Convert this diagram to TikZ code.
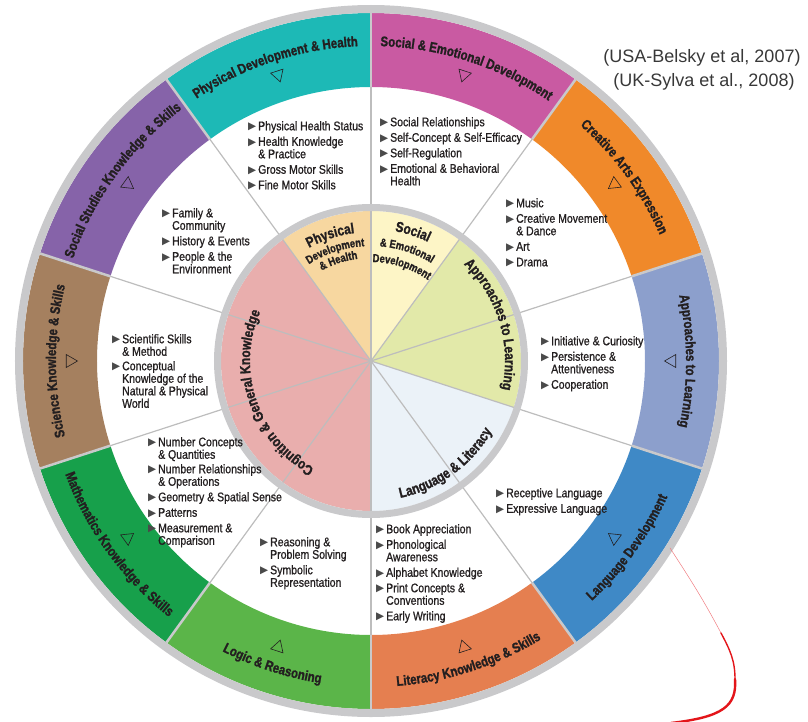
\documentclass[tikz,border=0pt]{standalone}
\usepackage{fontspec}
\setmainfont{Liberation Sans}
\newfontfamily\condfont[FakeStretch=0.84,FakeBold=0.9]{Liberation Sans}
\newfontfamily\heavyfont[FakeStretch=0.82,BoldFeatures={FakeBold=1.4}]{Liberation Sans}
\newfontfamily\bulfont{DejaVu Sans}
\usetikzlibrary{decorations.text,shapes.geometric}

\definecolor{ink}{HTML}{231F20}
\definecolor{bulgrey}{HTML}{4A4A4A}
\definecolor{rimgrey}{HTML}{C9C9CB}
\definecolor{spokegrey}{HTML}{BDBDBD}
\definecolor{physband}{RGB}{29,185,182}
\definecolor{socband}{RGB}{201,90,162}
\definecolor{artband}{RGB}{240,137,42}
\definecolor{apprband}{RGB}{140,159,204}
\definecolor{langband}{RGB}{63,137,198}
\definecolor{litband}{RGB}{229,127,80}
\definecolor{logicband}{RGB}{91,181,73}
\definecolor{mathband}{RGB}{23,160,75}
\definecolor{sciband}{RGB}{165,128,95}
\definecolor{sstudband}{RGB}{134,99,169}
\definecolor{physpie}{RGB}{247,215,160}
\definecolor{socpie}{RGB}{253,245,198}
\definecolor{apprpie}{RGB}{226,233,169}
\definecolor{langpie}{RGB}{235,242,248}
\definecolor{cogpie}{RGB}{233,174,173}
\definecolor{pen}{RGB}{227,21,26}

% bullets and fonts
\newcommand{\itm}{\makebox[10pt][l]{\raisebox{0.3pt}{\bulfont\fontsize{10.5}{10.5}\selectfont\color{bulgrey}▶}}}
\newcommand{\ind}{\hspace*{10pt}}
\newcommand{\bandfont}{\heavyfont\bfseries\fontsize{14}{14}\selectfont\color{ink}}
\newcommand{\piebig}{\heavyfont\bfseries\fontsize{14.5}{14.5}\selectfont\color{ink}}
\newcommand{\piesmall}{\heavyfont\bfseries\fontsize{11.5}{11.5}\selectfont\color{ink}}

% curved labels: #1 mid angle, #2 baseline radius, #3 font, #4 text
\newcommand{\cwlabel}[4]{\path[decorate,decoration={text along path,text align=center,text={|#3|#4}}]
  (#1+60:#2) arc[start angle=#1+60,end angle=#1-60,radius=#2];}
\newcommand{\ccwlabel}[4]{\path[decorate,decoration={text along path,text align=center,text={|#3|#4}}]
  (#1-60:#2) arc[start angle=#1-60,end angle=#1+60,radius=#2];}

\begin{document}
\begin{tikzpicture}[x=1pt,y=1pt,
   spoke/.style={spokegrey,line width=1.2pt},
   bandsep/.style={rimgrey,line width=2.5pt},
   tri/.style={draw=ink,regular polygon,regular polygon sides=3,minimum size=15pt,inner sep=0pt,line width=0.6pt},
   items/.style={anchor=north west,align=left,inner sep=0pt,text=ink,font=\condfont\fontsize{12.5}{12.5}\selectfont},
   refs/.style={text=black!78,font=\fontsize{18}{18}\selectfont},
   scribble/.style={pen,line cap=round}]
\useasboundingbox (-371,-360) rectangle (437,361);
\coordinate (c) at (0,0);

% outer band
\foreach \a/\b/\col in {90/126/physband,54/90/socband,18/54/artband,-18/18/apprband,-54/-18/langband,
  -90/-54/litband,-126/-90/logicband,-162/-126/mathband,162/198/sciband,126/162/sstudband}
  \fill[\col] (\a:274) arc[start angle=\a,end angle=\b,radius=274] -- (\b:348) arc[start angle=\b,end angle=\a,radius=348] -- cycle;

% inner pie
\fill[physpie] (c) -- (90:150) arc[start angle=90,end angle=126,radius=150] -- cycle;
\fill[socpie] (c) -- (54:150) arc[start angle=54,end angle=90,radius=150] -- cycle;
\fill[apprpie] (c) -- (-18:150) arc[start angle=-18,end angle=54,radius=150] -- cycle;
\fill[langpie] (c) -- (-90:150) arc[start angle=-90,end angle=-18,radius=150] -- cycle;
\fill[cogpie] (c) -- (126:150) arc[start angle=126,end angle=270,radius=150] -- cycle;

\foreach \a in {90,54,18,-18,-54,-90,-126,-162,162,126}{
  \draw[spoke] (c) -- (\a:274);
  \draw[bandsep] (\a:274) -- (\a:348);
}
\draw[rimgrey,line width=7pt] (c) circle (153.5);
\draw[rimgrey,line width=8pt] (c) circle (352);

% band labels
\cwlabel{108}{315}{\bandfont}{Physical Development {\&} Health}
\cwlabel{72}{315}{\bandfont}{Social {\&} Emotional Development}
\cwlabel{36}{315}{\bandfont}{Creative Arts Expression}
\cwlabel{0}{315}{\bandfont}{Approaches to Learning}
\ccwlabel{-36}{326}{\bandfont}{Language Development}
\ccwlabel{-72}{326}{\bandfont}{Literacy Knowledge {\&} Skills}
\ccwlabel{-108}{326}{\bandfont}{Logic {\&} Reasoning}
\ccwlabel{-144}{326}{\bandfont}{Mathematics Knowledge {\&} Skills}
\cwlabel{180}{315}{\bandfont}{Science Knowledge {\&} Skills}
\cwlabel{144}{315}{\bandfont}{Social Studies Knowledge {\&} Skills}

\foreach \m/\n in {108/phys,72/soc,36/art,0/appr,-36/lang,-72/lit,-108/logic,-144/math,180/sci,144/sstud}
  \node[tri,rotate=\m+90] (tri-\n) at (\m:301) {};

% pie labels
\cwlabel{108}{129}{\piebig}{Physical}
\cwlabel{108}{115}{\piesmall}{Development}
\cwlabel{108}{103}{\piesmall}{{\&} Health}
\cwlabel{72}{132}{\piebig}{Social}
\cwlabel{72}{115}{\piesmall}{{\&} Emotional}
\cwlabel{72}{99}{\piesmall}{Development}
\cwlabel{17}{134}{\piebig}{Approaches to Learning}
\ccwlabel{-54}{140}{\piebig}{Language {\&} Literacy}
\cwlabel{199}{121}{\piebig}{Cognition {\&} General Knowledge}

% item lists
\node[items] (phys) at (-123,240) {\itm Physical Health Status\\[3pt] \itm Health Knowledge\\ \ind\& Practice\\[3pt] \itm Gross Motor Skills\\[3pt] \itm Fine Motor Skills};
\node[items] (soc) at (9,244) {\itm Social Relationships\\[3pt] \itm Self-Concept \& Self-Efficacy\\[3pt] \itm Self-Regulation\\[3pt] \itm Emotional \& Behavioral\\ \ind Health};
\node[items] (art) at (135,163) {\itm Music\\[3pt] \itm Creative Movement\\ \ind\& Dance\\[3pt] \itm Art\\[3pt] \itm Drama};
\node[items] (appr) at (170,25) {\itm Initiative \& Curiosity\\[3pt] \itm Persistence \&\\ \ind Attentiveness\\[3pt] \itm Cooperation};
\node[items] (lang) at (125,-127) {\itm Receptive Language\\[3pt] \itm Expressive Language};
\node[items] (lit) at (5,-163) {\itm Book Appreciation\\[3pt] \itm Phonological\\ \ind Awareness\\[3pt] \itm Alphabet Knowledge\\[3pt] \itm Print Concepts \&\\ \ind Conventions\\[3pt] \itm Early Writing};
\node[items] (logic) at (-111,-176) {\itm Reasoning \&\\ \ind Problem Solving\\[3pt] \itm Symbolic\\ \ind Representation};
\node[items] (math) at (-223,-76) {\itm Number Concepts\\ \ind\& Quantities\\[2pt] \itm Number Relationships\\ \ind\& Operations\\[3pt] \itm Geometry \& Spatial Sense\\[3pt] \itm Patterns\\[3pt] \itm Measurement \&\\ \ind Comparison};
\node[items] (sci) at (-259,27) {\itm Scientific Skills\\ \ind\& Method\\[2pt] \itm Conceptual\\ \ind Knowledge of the\\ \ind Natural \& Physical\\ \ind World};
\node[items] (sstud) at (-209,153) {\itm Family \&\\ \ind Community\\[3pt] \itm History \& Events\\[3pt] \itm People \& the\\ \ind Environment};

% sources
\node[refs] (ref1) at (331,303) {(USA-Belsky et al, 2007)};
\node[refs] (ref2) at (333,279) {(UK-Sylva et al., 2008)};

% red pen stroke
\coordinate (pen0) at (299,-187);
\coordinate (pen1) at (350,-272);
\coordinate (pen2) at (364,-318);
\coordinate (pen3) at (300,-362);
\draw[scribble,pen!55,line width=0.5pt] (pen0) to[out=-57,in=118] (pen1);
\draw[scribble,line width=1.4pt] (pen1) to[out=-62,in=90] (pen2);
\draw[scribble,line width=2.4pt] (pen2) .. controls (366,-345) and (352,-356) .. (pen3);
\end{tikzpicture}
\end{document}
